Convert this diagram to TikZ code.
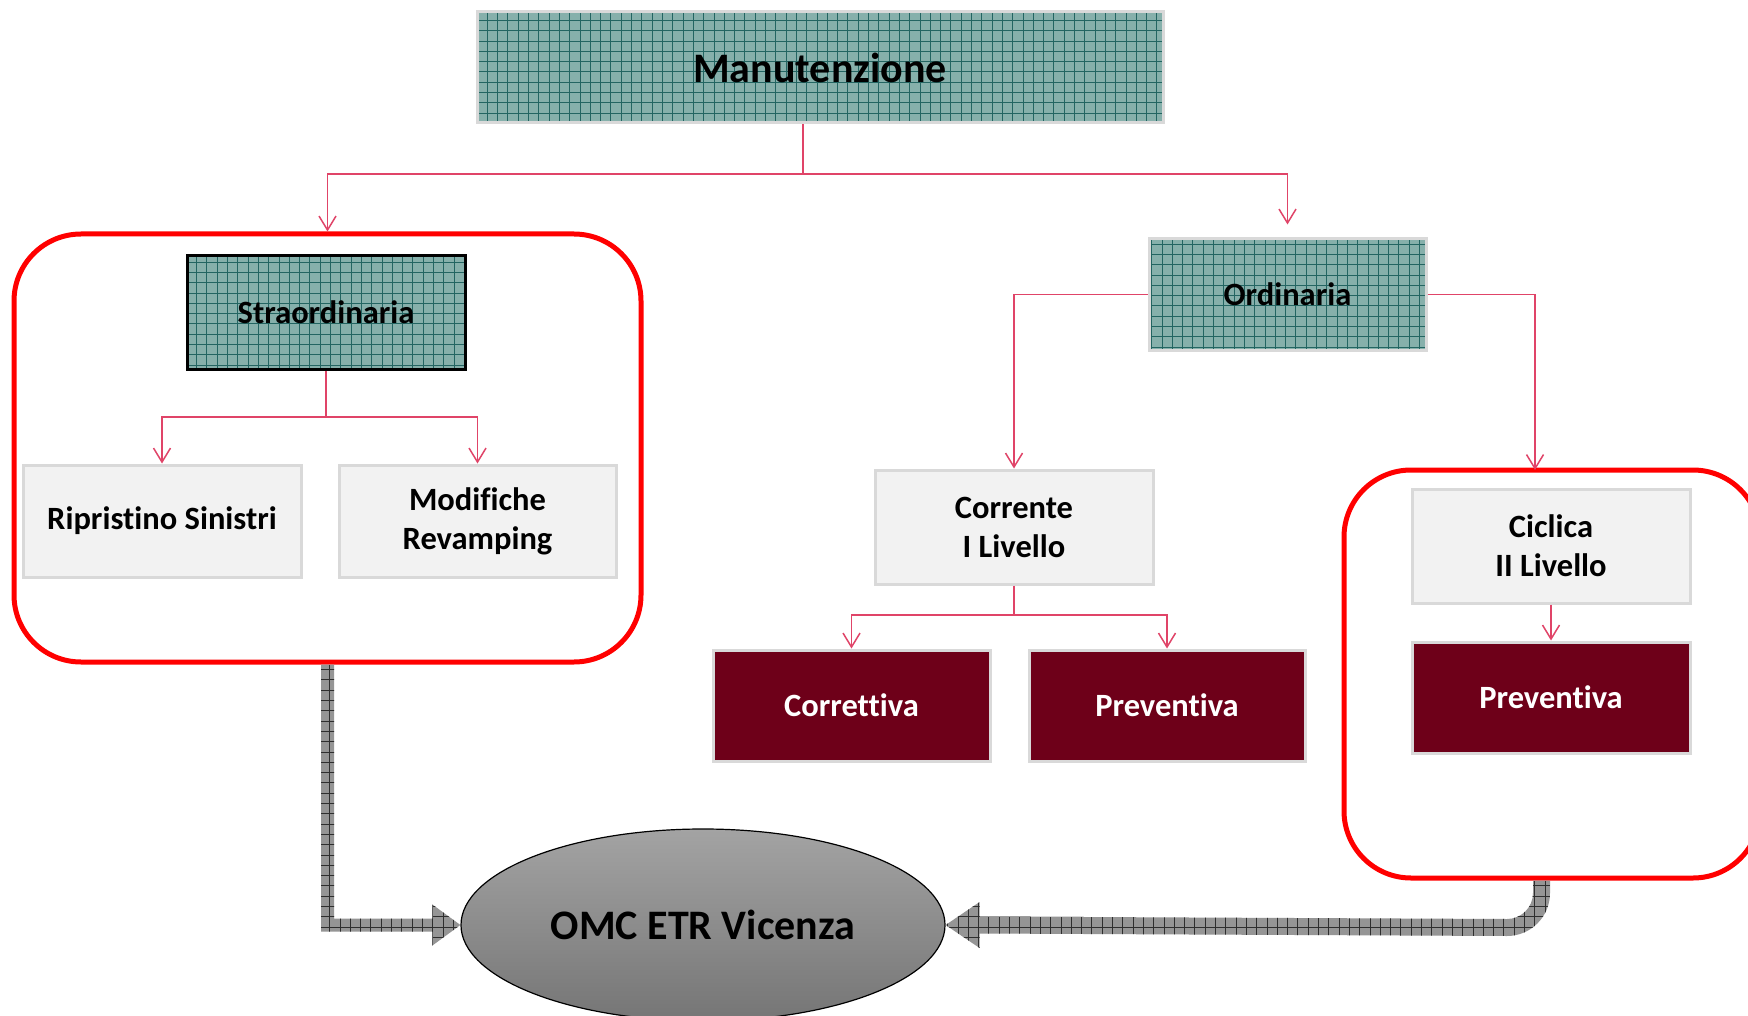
\documentclass[tikz,border=0pt]{standalone}
\usepackage{fontspec}
\setmainfont{Carlito}[Ligatures={NoCommon}]
\usetikzlibrary{arrows.meta,shapes.geometric,calc}
\definecolor{tealfill}{HTML}{86B0AB}
\definecolor{tealgrid}{HTML}{236562}
\definecolor{boxgray}{HTML}{F2F2F2}
\definecolor{boxline}{HTML}{D9D9D9}
\definecolor{wine}{HTML}{6E0019}
\definecolor{conn}{HTML}{E04468}
\definecolor{redframe}{HTML}{FF0000}
\definecolor{arrowgray}{HTML}{959595}
\definecolor{arrowgrid}{HTML}{2E2E2E}
\begin{document}
\begin{tikzpicture}[x=1pt,y=-1pt,
  boxtext/.style={inner sep=0pt, align=center, font=\bfseries\fontsize{32.5}{39}\selectfont},
  tealbox/.style={boxtext, draw=boxline, line width=3pt, fill=tealfill,
    path picture={\draw[tealgrid,line width=0.7pt,step=10.3pt] (path picture bounding box.south west) grid (path picture bounding box.north east);}},
  graybox/.style={boxtext, draw=boxline, line width=3pt, fill=boxgray},
  winebox/.style={boxtext, draw=boxline, line width=3pt, fill=wine, text=white},
  frame/.style={draw=redframe, line width=5pt, rounded corners=67pt, inner sep=0pt},
  conline/.style={draw=conn, line width=1.5pt, -{Straight Barb[length=14pt,width=17pt]}},
  plainline/.style={draw=conn, line width=1.5pt},
  fatarrow/.style={fill=arrowgray,
    path picture={\draw[arrowgrid,line width=0.7pt,step=10.3pt] (path picture bounding box.south west) grid (path picture bounding box.north east);}}
]
\useasboundingbox (0,0) rectangle (1748,1016);
\fill[white] (0,0) rectangle (1748,1016);

% frames
\node[frame, minimum width=627pt, minimum height=428pt] (lbox) at (327.5,448) {};
\node[frame, minimum width=416pt, minimum height=408pt] (rbox) at (1552,674) {};

% boxes
\node[tealbox, minimum width=686pt, minimum height=111pt, font=\bfseries\fontsize{42}{48}\selectfont] (man) at (820,67.5) {Manutenzione};
\node[tealbox, draw=black, minimum width=278pt, minimum height=113pt] (stra) at (326,312.5) {Straordinaria};
\node[graybox, minimum width=278pt, minimum height=112pt] (rip) at (162,521) {Ripristino Sinistri};
\node[graybox, minimum width=277pt, minimum height=112pt] (mod) at (477.5,521) {Modifiche\\Revamping};
\node[tealbox, minimum width=277pt, minimum height=111pt] (ord) at (1287.5,294.5) {Ordinaria};
\node[graybox, minimum width=278pt, minimum height=114pt] (cor) at (1014,527) {Corrente\\I Livello};
\node[winebox, minimum width=277pt, minimum height=111pt] (corr) at (851.5,705.5) {Correttiva};
\node[winebox, minimum width=276pt, minimum height=111pt] (prev1) at (1167,705.5) {Preventiva};
\node[graybox, minimum width=278pt, minimum height=114pt] (cic) at (1551,546) {Ciclica\\II Livello};
\node[winebox, minimum width=278pt, minimum height=111pt] (prev2) at (1551,697.5) {Preventiva};

\node[ellipse, draw=black, line width=1.2pt, top color=black!36, bottom color=black!54,
  minimum width=484pt, minimum height=192pt, inner sep=0pt,
  font=\bfseries\fontsize{42}{50}\selectfont] (omc) at (703,925) {OMC ETR Vicenza};

% connectors
\coordinate (mj) at (803,174);
\draw[plainline] (man.south -| mj) -- (mj);
\draw[conline] (mj) -| (lbox.north);
\draw[conline, shorten >=13pt] (mj) -| (ord.north);

\coordinate (sj) at (326,417);
\draw[plainline] (stra.south) -- (sj);
\draw[conline] (sj) -| (rip.north);
\draw[conline] (sj) -| (mod.north);

\coordinate (rtop) at (1535,470);
\draw[conline] (ord.west) -| (cor.north);
\draw[conline] (ord.east) -| (rtop);

\coordinate (cj) at (1014,615);
\draw[plainline] (cor.south) -- (cj);
\draw[conline] (cj) -| (corr.north);
\draw[conline] (cj) -| (prev1.north);

\draw[conline] (cic.south) -- (prev2.north);

% fat arrows
\coordinate (la) at ($(lbox.south)+(-6.5,0)$);
\coordinate (lb) at ($(lbox.south)+(6.5,0)$);
\coordinate (lc) at ($(omc.west)+(-28,-6.5)$);
\coordinate (ld) at ($(omc.west)+(-28,-20.5)$);
\coordinate (le) at ($(omc.west)+(-28,20.5)$);
\coordinate (lf) at ($(omc.west)+(-28,6.5)$);
\path[fatarrow] (la) -- (lb) |- (lc) -- (ld) -- (omc.west) -- (le) -- (lf) -| (la) -- cycle;

\coordinate (ra) at ($(rbox.south)+(-19,0)$);
\coordinate (rb) at ($(rbox.south)+(-2,0)$);
\coordinate (rc) at ($(omc.east)+(34,8.5)$);
\coordinate (rd) at ($(omc.east)+(34,23)$);
\coordinate (re) at ($(omc.east)+(34,-23)$);
\coordinate (rf) at ($(omc.east)+(34,-8.5)$);
\path[fatarrow] (ra) -- (rb) -- ($(rb)+(0,12.5)$) arc[start angle=0,end angle=90,radius=43]
  -- (rc) -- (rd) -- (omc.east) -- (re) -- (rf) -- ($(ra)+(-26,38.5)$)
  arc[start angle=90,end angle=0,radius=26] -- cycle;
\end{tikzpicture}
\end{document}
